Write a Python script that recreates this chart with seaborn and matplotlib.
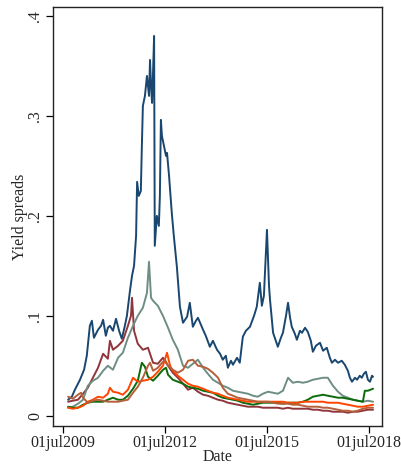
import numpy as np
import pandas as pd
import matplotlib
matplotlib.use("Agg")
import matplotlib.pyplot as plt
import seaborn as sns

# ---- data (decimal years, yield spreads) ----
navy_year = [2009.66, 2009.77, 2009.86, 2010.01, 2010.13, 2010.21, 2010.30, 2010.36, 2010.42, 2010.48,
             2010.54, 2010.63, 2010.69, 2010.77, 2010.83, 2010.89, 2010.98, 2011.07, 2011.16, 2011.24,
             2011.33, 2011.39, 2011.48, 2011.54, 2011.60, 2011.66, 2011.69, 2011.74, 2011.80, 2011.83,
             2011.86, 2011.92, 2011.98, 2012.04, 2012.07, 2012.10, 2012.13, 2012.16, 2012.19, 2012.21,
             2012.27, 2012.33, 2012.36, 2012.39, 2012.42, 2012.48, 2012.54, 2012.57, 2012.63, 2012.66,
             2012.71, 2012.77, 2012.86, 2012.95, 2013.04, 2013.16, 2013.24, 2013.33, 2013.42, 2013.48,
             2013.63, 2013.71, 2013.83, 2013.92, 2014.04, 2014.13, 2014.21, 2014.30, 2014.36, 2014.45,
             2014.51, 2014.63, 2014.71, 2014.80, 2014.89, 2015.01, 2015.13, 2015.21, 2015.30, 2015.36,
             2015.42, 2015.51, 2015.57, 2015.60, 2015.69, 2015.77, 2015.83, 2015.92, 2015.98, 2016.07,
             2016.13, 2016.19, 2016.24, 2016.33, 2016.39, 2016.48, 2016.54, 2016.63, 2016.71, 2016.80,
             2016.86, 2016.95, 2017.07, 2017.16, 2017.27, 2017.36, 2017.42, 2017.51, 2017.60, 2017.71,
             2017.80, 2017.89, 2017.95, 2018.01, 2018.10, 2018.16, 2018.24, 2018.30, 2018.36, 2018.42,
             2018.48, 2018.54, 2018.60, 2018.63]
navy_val = [0.016, 0.019, 0.026, 0.036, 0.046, 0.060, 0.090, 0.095, 0.078, 0.082,
            0.086, 0.090, 0.096, 0.080, 0.088, 0.090, 0.085, 0.097, 0.085, 0.077,
            0.090, 0.100, 0.125, 0.140, 0.150, 0.180, 0.234, 0.220, 0.225, 0.270,
            0.310, 0.320, 0.340, 0.320, 0.356, 0.330, 0.313, 0.345, 0.380, 0.170,
            0.200, 0.190, 0.220, 0.296, 0.280, 0.270, 0.260, 0.263, 0.240, 0.226,
            0.203, 0.180, 0.149, 0.109, 0.093, 0.099, 0.113, 0.089, 0.095, 0.098,
            0.086, 0.080, 0.069, 0.075, 0.066, 0.062, 0.056, 0.060, 0.048, 0.055,
            0.051, 0.058, 0.053, 0.079, 0.085, 0.089, 0.100, 0.109, 0.133, 0.110,
            0.120, 0.186, 0.130, 0.116, 0.083, 0.075, 0.069, 0.078, 0.083, 0.100,
            0.113, 0.098, 0.089, 0.082, 0.076, 0.085, 0.083, 0.088, 0.084, 0.075,
            0.064, 0.070, 0.073, 0.065, 0.068, 0.058, 0.053, 0.056, 0.053, 0.055,
            0.051, 0.045, 0.038, 0.034, 0.038, 0.036, 0.040, 0.038, 0.042, 0.044,
            0.036, 0.034, 0.040, 0.039]

teal_year = [2009.66, 2009.80, 2009.95, 2010.10, 2010.24, 2010.39, 2010.54, 2010.69, 2010.83, 2010.98,
             2011.13, 2011.27, 2011.42, 2011.57, 2011.71, 2011.86, 2011.98, 2012.04, 2012.10, 2012.16,
             2012.30, 2012.45, 2012.60, 2012.74, 2012.89, 2013.04, 2013.19, 2013.33, 2013.48, 2013.63,
             2013.77, 2013.92, 2014.07, 2014.21, 2014.36, 2014.51, 2014.65, 2014.80, 2014.95, 2015.10,
             2015.24, 2015.39, 2015.54, 2015.69, 2015.83, 2015.98, 2016.13, 2016.27, 2016.42, 2016.57,
             2016.71, 2016.86, 2017.01, 2017.16, 2017.30, 2017.45, 2017.60, 2017.74, 2017.89, 2018.04,
             2018.18, 2018.33, 2018.48, 2018.63]
teal_val = [0.008, 0.009, 0.012, 0.016, 0.030, 0.035, 0.038, 0.045, 0.050, 0.046,
            0.058, 0.063, 0.078, 0.090, 0.100, 0.108, 0.123, 0.154, 0.118, 0.115,
            0.110, 0.100, 0.088, 0.076, 0.066, 0.050, 0.048, 0.052, 0.056, 0.048,
            0.042, 0.036, 0.033, 0.030, 0.028, 0.025, 0.024, 0.023, 0.022, 0.020,
            0.019, 0.022, 0.024, 0.023, 0.022, 0.025, 0.038, 0.033, 0.034, 0.033,
            0.034, 0.036, 0.037, 0.038, 0.038, 0.030, 0.024, 0.020, 0.018, 0.016,
            0.015, 0.014, 0.015, 0.014]

maroon_year = [2009.66, 2009.80, 2009.95, 2010.10, 2010.24, 2010.39, 2010.54, 2010.69, 2010.83, 2010.89,
               2010.98, 2011.13, 2011.27, 2011.42, 2011.51, 2011.54, 2011.60, 2011.71, 2011.86, 2012.01,
               2012.16, 2012.30, 2012.45, 2012.60, 2012.74, 2012.89, 2013.04, 2013.19, 2013.33, 2013.48,
               2013.63, 2013.77, 2013.92, 2014.07, 2014.21, 2014.36, 2014.51, 2014.65, 2014.80, 2014.95,
               2015.10, 2015.24, 2015.39, 2015.54, 2015.69, 2015.83, 2015.98, 2016.13, 2016.27, 2016.42,
               2016.57, 2016.71, 2016.86, 2017.01, 2017.16, 2017.30, 2017.45, 2017.60, 2017.74, 2017.89,
               2018.04, 2018.18, 2018.33, 2018.48, 2018.63]
maroon_val = [0.014, 0.015, 0.016, 0.022, 0.028, 0.038, 0.048, 0.062, 0.057, 0.075,
              0.066, 0.070, 0.075, 0.090, 0.100, 0.118, 0.085, 0.072, 0.066, 0.068,
              0.053, 0.052, 0.058, 0.050, 0.043, 0.038, 0.032, 0.026, 0.028, 0.024,
              0.021, 0.020, 0.018, 0.016, 0.015, 0.013, 0.012, 0.011, 0.010, 0.009,
              0.009, 0.009, 0.008, 0.008, 0.008, 0.008, 0.007, 0.008, 0.007, 0.007,
              0.007, 0.007, 0.006, 0.006, 0.005, 0.005, 0.004, 0.004, 0.004, 0.003,
              0.004, 0.004, 0.005, 0.006, 0.006]

green_year = [2009.66, 2009.80, 2009.95, 2010.10, 2010.24, 2010.39, 2010.54, 2010.69, 2010.83, 2010.98,
              2011.13, 2011.27, 2011.42, 2011.57, 2011.71, 2011.83, 2011.92, 2012.01, 2012.16, 2012.30,
              2012.45, 2012.54, 2012.60, 2012.74, 2012.89, 2013.04, 2013.19, 2013.33, 2013.48, 2013.63,
              2013.77, 2013.92, 2014.07, 2014.21, 2014.36, 2014.51, 2014.65, 2014.80, 2014.95, 2015.10,
              2015.24, 2015.39, 2015.54, 2015.69, 2015.83, 2015.98, 2016.13, 2016.27, 2016.42, 2016.57,
              2016.71, 2016.86, 2017.01, 2017.16, 2017.30, 2017.45, 2017.60, 2017.74, 2017.89, 2018.04,
              2018.18, 2018.33, 2018.39, 2018.48, 2018.63]
green_val = [0.009, 0.008, 0.008, 0.011, 0.013, 0.014, 0.014, 0.014, 0.016, 0.018,
             0.016, 0.016, 0.020, 0.027, 0.035, 0.053, 0.049, 0.039, 0.035, 0.040,
             0.046, 0.048, 0.041, 0.036, 0.034, 0.032, 0.029, 0.028, 0.027, 0.025,
             0.024, 0.023, 0.020, 0.018, 0.017, 0.016, 0.015, 0.013, 0.012, 0.011,
             0.012, 0.013, 0.013, 0.013, 0.013, 0.012, 0.013, 0.013, 0.013, 0.014,
             0.016, 0.019, 0.020, 0.021, 0.020, 0.019, 0.018, 0.018, 0.017, 0.016,
             0.015, 0.014, 0.025, 0.025, 0.027]

orange_year = [2009.66, 2009.80, 2009.95, 2010.10, 2010.24, 2010.39, 2010.54, 2010.69, 2010.83, 2010.89,
               2010.98, 2011.13, 2011.27, 2011.42, 2011.57, 2011.71, 2011.86, 2012.01, 2012.16, 2012.30,
               2012.45, 2012.57, 2012.66, 2012.74, 2012.89, 2013.04, 2013.19, 2013.33, 2013.48, 2013.63,
               2013.77, 2013.92, 2014.07, 2014.21, 2014.36, 2014.51, 2014.65, 2014.80, 2014.95, 2015.10,
               2015.24, 2015.39, 2015.54, 2015.69, 2015.83, 2015.98, 2016.13, 2016.27, 2016.42, 2016.57,
               2016.71, 2016.86, 2017.01, 2017.16, 2017.30, 2017.45, 2017.60, 2017.74, 2017.89, 2018.04,
               2018.18, 2018.33, 2018.48, 2018.63]
orange_val = [0.008, 0.007, 0.008, 0.010, 0.014, 0.016, 0.019, 0.018, 0.022, 0.028,
              0.024, 0.023, 0.021, 0.026, 0.038, 0.034, 0.035, 0.036, 0.039, 0.044,
              0.050, 0.063, 0.050, 0.045, 0.040, 0.036, 0.032, 0.030, 0.029, 0.027,
              0.025, 0.023, 0.022, 0.020, 0.018, 0.017, 0.016, 0.015, 0.014, 0.014,
              0.014, 0.014, 0.014, 0.014, 0.014, 0.014, 0.013, 0.013, 0.013, 0.014,
              0.014, 0.014, 0.014, 0.014, 0.013, 0.013, 0.013, 0.012, 0.011, 0.010,
              0.009, 0.009, 0.010, 0.011]

sienna_year = [2009.66, 2009.80, 2009.95, 2010.04, 2010.10, 2010.24, 2010.39, 2010.54, 2010.69, 2010.83,
               2010.98, 2011.13, 2011.27, 2011.42, 2011.57, 2011.71, 2011.86, 2012.01, 2012.07, 2012.16,
               2012.30, 2012.45, 2012.51, 2012.60, 2012.74, 2012.89, 2013.04, 2013.19, 2013.33, 2013.48,
               2013.63, 2013.77, 2013.92, 2014.07, 2014.21, 2014.36, 2014.51, 2014.65, 2014.80, 2014.95,
               2015.10, 2015.24, 2015.39, 2015.54, 2015.69, 2015.83, 2015.98, 2016.13, 2016.27, 2016.42,
               2016.57, 2016.71, 2016.86, 2017.01, 2017.16, 2017.30, 2017.45, 2017.60, 2017.74, 2017.89,
               2018.04, 2018.18, 2018.33, 2018.48, 2018.63]
sienna_val = [0.019, 0.017, 0.021, 0.023, 0.018, 0.013, 0.015, 0.016, 0.015, 0.014,
              0.014, 0.014, 0.015, 0.016, 0.023, 0.029, 0.038, 0.050, 0.053, 0.045,
              0.048, 0.054, 0.056, 0.050, 0.046, 0.043, 0.046, 0.055, 0.056, 0.050,
              0.049, 0.047, 0.043, 0.038, 0.028, 0.022, 0.020, 0.018, 0.017, 0.016,
              0.015, 0.014, 0.014, 0.014, 0.013, 0.012, 0.012, 0.012, 0.011, 0.011,
              0.010, 0.009, 0.009, 0.009, 0.008, 0.008, 0.007, 0.006, 0.005, 0.005,
              0.004, 0.005, 0.007, 0.008, 0.008]

series_names = ["navy", "maroon", "teal", "green", "orange", "sienna"]
series_colors = ["#1a476f", "#90353b", "#6e8e84", "#0b6b0b", "#ff4500", "#b5603a"]
series_data = [(navy_year, navy_val), (maroon_year, maroon_val), (teal_year, teal_val),
               (green_year, green_val), (orange_year, orange_val), (sienna_year, sienna_val)]

y_ticks = [0, 0.1, 0.2, 0.3, 0.4]
y_ticklabels = ["0", ".1", ".2", ".3", ".4"]
x_ticks = [2009.5, 2012.5, 2015.5, 2018.5]
x_ticklabels = ["01jul2009", "01jul2012", "01jul2015", "01jul2018"]

frames = []
for name, (yr, val) in zip(series_names, series_data):
    frames.append(pd.DataFrame({"Date": yr, "Yield spreads": val, "series": name}))
df = pd.concat(frames, ignore_index=True)

sns.set_theme(style="white")
plt.rcParams["font.family"] = ["Liberation Serif", "DejaVu Serif"]

fig = plt.figure(figsize=(4.02, 4.65), dpi=100)
ax = fig.add_axes([0.131, 0.0845, 0.819, 0.9005])

sns.lineplot(data=df, x="Date", y="Yield spreads", hue="series",
             hue_order=series_names, palette=dict(zip(series_names, series_colors)),
             sort=False, estimator=None, linewidth=1.4, legend=False, ax=ax)

ax.set_xlim(2009.206, 2018.891)
ax.set_ylim(-0.010, 0.409)
ax.set_yticks(y_ticks)
ax.set_yticklabels(y_ticklabels, rotation=90, va="center", fontsize=11.5)
ax.set_xticks(x_ticks)
ax.set_xticklabels(x_ticklabels, fontsize=11.5)
ax.tick_params(axis="both", direction="out", length=5, width=0.9, color="black",
               left=True, bottom=True, pad=2)
ax.set_xlabel("Date", fontsize=11.5, labelpad=-2)
ax.set_ylabel("Yield spreads", fontsize=11.5, labelpad=-1)
for s in ax.spines.values():
    s.set_color("#222222")
    s.set_linewidth(1.0)
    s.set_visible(True)

fig.savefig("out.png", dpi=100)
